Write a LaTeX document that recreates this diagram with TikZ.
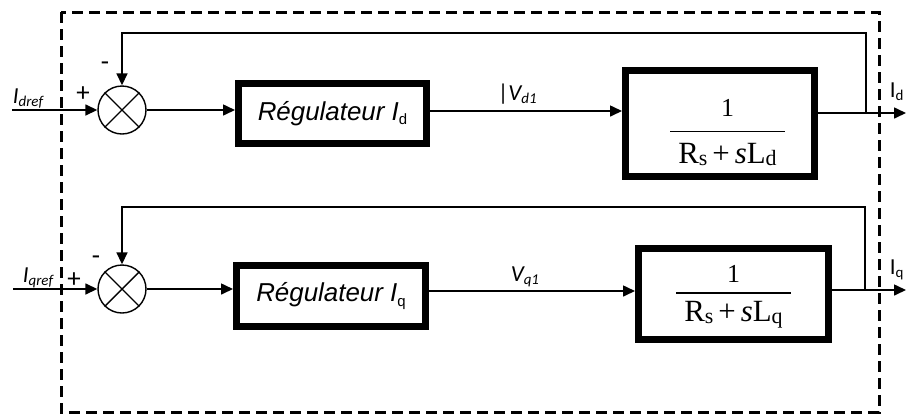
\documentclass[tikz,border=0pt]{standalone}
\usepackage{amsmath}
\usepackage{fontspec}
\setmainfont{Liberation Serif}
\newfontfamily\arialfont{Liberation Sans}
\newfontfamily\calibrifont{Carlito}
\usetikzlibrary{arrows.meta}

\newcommand{\lowsub}[1]{\raisebox{-0.3ex}{\fontsize{15}{15}\selectfont #1}}
\newcommand{\densub}[1]{\raisebox{-0.15ex}{\fontsize{22}{22}\selectfont #1}}
% transfer function: numerator, denominator, numerator top, gap under numerator, denominator top
\newcommand{\tffrac}[5]{{\setlength\arrayrulewidth{1.3bp}%
  \begin{tabular}{@{\hspace{8bp}}c@{\hspace{8bp}}}\rule{0pt}{#3}#1\\[#4]\hline
  \rule{0pt}{#5}\fontsize{31}{34}\selectfont #2\end{tabular}}}

\begin{document}
\begin{tikzpicture}[x=1bp,y=-1bp,>={Triangle[length=12bp,width=11bp]},line width=1.6bp,
        sum node/.style={circle,draw,line width=1.4bp,minimum size=48bp,inner sep=0pt},
        reg node/.style={draw,line width=7bp,minimum width=188bp,minimum height=60bp,inner sep=0pt,
          font=\arialfont\itshape\fontsize{26}{30}\selectfont},
        tf node/.style={draw,line width=7bp,minimum width=189bp,inner sep=0pt,
          font=\fontsize{26}{30}\selectfont},
        lbl/.style={inner sep=0pt,font=\calibrifont\fontsize{23}{25}\selectfont},
        sign/.style={inner sep=0pt,font=\calibrifont\fontsize{27}{29}\selectfont},
        frame/.style={line width=3bp,dash pattern=on 11bp off 6bp}]

        \useasboundingbox (0,0) rectangle (907,418);
        \draw[frame] (61,12) rectangle (879,412);

        % d axis
        \node[sum node] (sd) at (122,110) {};
        \draw[line width=1.4bp] (sd.north west) -- (sd.south east) (sd.north east) -- (sd.south west);
        \node[reg node] (rd) at (332.5,113.5) {Régulateur I\lowsub{\upshape d}\hspace{16bp}};
        \node[tf node,minimum height=106bp] (gd) at (720,123.5)
          {\hspace{15bp}\tffrac{1}{R\densub{s}\hspace{5bp}+\hspace{5bp}\textit{s}L\densub{d}}{42.2bp}{5.7bp}{31.5bp}};
        \coordinate (ind) at (12,110);
        \coordinate (outd) at (906,113);
        \coordinate (fbd) at (866,33);

        \node[lbl,anchor=base west] (idref) at (12,103) {\itshape I\lowsub{dref}};
        \node[sign] (pd) at (83,94) {+};
        \node[sign] (md) at (105,66) {-};
        \node[lbl,anchor=base west] (vd) at (497,100) {|\itshape V\lowsub{d1}};
        \node[lbl,anchor=base west] (id) at (889,97) {I\lowsub{d}};

        \draw[->] (ind) -- (sd);
        \draw[->] (sd) -- (sd -| rd.west);
        \draw[->] ([yshift=2.5bp]rd.east) -- ([yshift=2.5bp]rd.east -| gd.west);
        \draw[->] (gd.east |- outd) -- (outd);
        \draw[->] (fbd |- outd) -- (fbd) -| (sd.north);

        % q axis
        \node[sum node] (sq) at (122,289) {};
        \draw[line width=1.4bp] (sq.north west) -- (sq.south east) (sq.north east) -- (sq.south west);
        \node[reg node,minimum width=189bp,minimum height=61bp] (rq) at (331,296)
          {Régulateur I\lowsub{\upshape q}\hspace{16bp}};
        \node[tf node,minimum width=190bp,minimum height=91bp] (gq) at (733.5,294)
          {\tffrac{1}{R\densub{s}\hspace{5bp}+\hspace{5bp}\textit{s}L\densub{q}}{24.5bp}{1bp}{27.5bp}};
        \coordinate (inq) at (13,289);
        \coordinate (outq) at (906,290);
        \coordinate (fbq) at (865,207);

        \node[lbl,anchor=base west] (iqref) at (22,282) {\itshape I\lowsub{qref}};
        \node[sign] (pq) at (74,280) {+};
        \node[sign] (mq) at (96,260) {-};
        \node[lbl,anchor=base west] (vq) at (510,281) {\itshape V\lowsub{q1}};
        \node[lbl,anchor=base west] (iq) at (889,274) {I\lowsub{q}};

        \draw[->] (inq) -- (sq);
        \draw[->] (sq) -- (sq -| rq.west);
        \draw[->] ([yshift=5bp]rq.east) -- ([yshift=5bp]rq.east -| gq.west);
        \draw[->] (gq.east |- outq) -- (outq);
        \draw[->] (fbq |- outq) -- (fbq) -| (sq.north);
\end{tikzpicture}
\end{document}
